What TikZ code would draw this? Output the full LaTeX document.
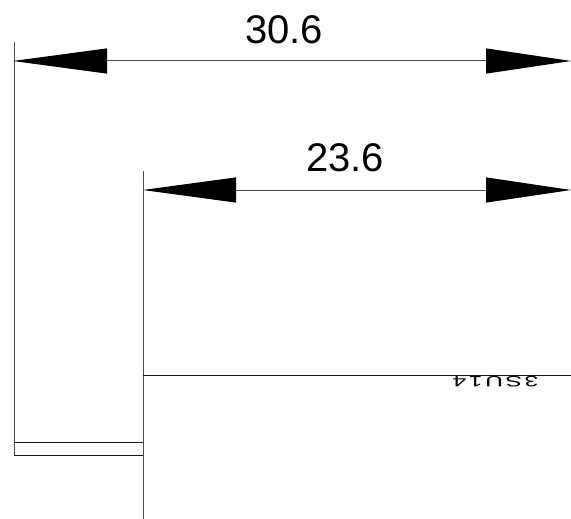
\documentclass[tikz,border=0pt]{standalone}
\usepackage{fontspec}
\setmainfont{Liberation Sans}
\newfontfamily\wideplate[LetterSpace=10]{Liberation Sans}
\usetikzlibrary{arrows.meta}
\tikzset{
  cadline/.style={line width=1pt,black!70},
  darkline/.style={line width=0.9pt,black!90},
  dimarrow/.style={cadline,{Triangle[length=#1,width=25pt,black]}-{Triangle[length=85pt,width=25pt,black]}},
  dimlabel/.style={font=\fontsize{40}{40}\selectfont,inner sep=0pt,anchor=center},
  platelabel/.style={font=\wideplate\fontsize{15}{15}\selectfont,inner sep=0pt,anchor=center,rotate=180,xscale=1.65}
}
\begin{document}
\begin{tikzpicture}[x=1pt,y=-1pt]
\useasboundingbox (0,0) rectangle (571,519);
\coordinate (AT) at (14,42);
\coordinate (AB) at (14,455);
\coordinate (AM) at (14,442);
\coordinate (BT) at (143,171);
\coordinate (BB) at (143,519);
\coordinate (BM) at (143,442);
\coordinate (BN) at (143,455);
\coordinate (BH) at (143,375);
\coordinate (CH) at (571,375);
\coordinate (D1L) at (13,61);
\coordinate (D1R) at (571,61);
\coordinate (D2L) at (143,190);
\coordinate (D2R) at (571,190);
\draw[cadline] (AT) -- (AB);
\draw[cadline] (BT) -- (BB);
\draw[darkline] (AM) -- (BM);
\draw[darkline] (AB) -- (BN);
\draw[darkline] (BH) -- (CH);
\draw[dimarrow=94pt] (D1L) -- (D1R);
\draw[dimarrow=93pt] (D2L) -- (D2R);
\node[dimlabel] (L1) at (284,30) {30.6};
\node[dimlabel] (L2) at (345,158) {23.6};
\node[platelabel] (P) at (495.5,382) {3SU14};
\end{tikzpicture}
\end{document}
